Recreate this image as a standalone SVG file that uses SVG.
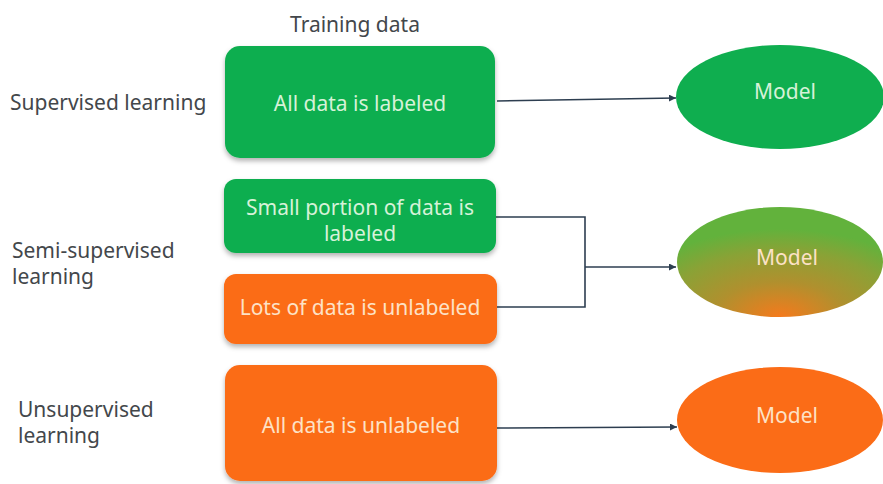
<svg xmlns="http://www.w3.org/2000/svg" width="883" height="484" viewBox="0 0 883 484">
<style>
.lbl{font-family:"Noto Sans","Liberation Sans",sans-serif;font-size:21px;fill:#43474b}
.btxt{font-family:"Noto Sans","Liberation Sans",sans-serif;font-size:21px;text-anchor:middle}
.g{fill:#0fae4f}
.o{fill:#fb6c17}
.gt{fill:#d6f2d8}
.ot{fill:#fde2c6}
.con{fill:none;stroke:#2d3e50;stroke-width:1.6}
</style>
<defs>
<filter id="sh" x="-10%" y="-10%" width="120%" height="130%">
<feDropShadow dx="0" dy="3" stdDeviation="2.5" flood-color="#000" flood-opacity="0.3"/>
</filter>
<marker id="ar" viewBox="0 0 10 10" refX="10" refY="5" markerWidth="7" markerHeight="7" markerUnits="userSpaceOnUse" orient="auto">
<path d="M0,0 L10,5 L0,10 z" fill="#2d3e50"/>
</marker>
<radialGradient id="mix" cx="0.5" cy="1" r="0.8" gradientUnits="objectBoundingBox">
<stop offset="0" stop-color="#f57a1c"/>
<stop offset="0.4" stop-color="#b0902e"/>
<stop offset="0.75" stop-color="#8aa236"/>
<stop offset="1" stop-color="#62b23c"/>
</radialGradient>
</defs>
<g id="labels">
<text class="lbl" x="355" y="32" text-anchor="middle">Training data</text>
<text class="lbl" x="10" y="110">Supervised learning</text>
<text class="lbl" x="12" y="258">Semi-supervised</text>
<text class="lbl" x="12" y="284">learning</text>
<text class="lbl" x="18" y="417">Unsupervised</text>
<text class="lbl" x="18" y="443">learning</text>
</g>
<g id="connectors">
<path class="con" d="M497,101 L676,98" marker-end="url(#ar)"/>
<path class="con" d="M496,217 L585,217 L585,307 L497,307"/>
<path class="con" d="M585,267 L676,267" marker-end="url(#ar)"/>
<path class="con" d="M497,428 L677,427" marker-end="url(#ar)"/>
</g>
<g id="box-sup">
<rect class="g" x="225" y="46" width="270" height="112" rx="15" filter="url(#sh)"/>
<text class="btxt gt" x="360" y="111">All data is labeled</text>
</g>
<g id="box-semi-labeled">
<rect class="g" x="224" y="179" width="272" height="74" rx="12" filter="url(#sh)"/>
<text class="btxt gt" x="360" y="215">Small portion of data is</text>
<text class="btxt gt" x="360" y="241">labeled</text>
</g>
<g id="box-semi-unlabeled">
<rect class="o" x="224" y="274" width="273" height="70" rx="12" filter="url(#sh)"/>
<text class="btxt ot" x="360" y="315">Lots of data is unlabeled</text>
</g>
<g id="box-unsup">
<rect class="o" x="225" y="365" width="272" height="116" rx="15" filter="url(#sh)"/>
<text class="btxt ot" x="361" y="433">All data is unlabeled</text>
</g>
<g id="model-sup">
<ellipse class="g" cx="780" cy="97" rx="104" ry="52"/>
<text class="btxt gt" x="785" y="99">Model</text>
</g>
<g id="model-semi">
<ellipse fill="url(#mix)" cx="780" cy="262" rx="103" ry="55"/>
<text class="btxt ot" x="787" y="265">Model</text>
</g>
<g id="model-unsup">
<ellipse class="o" cx="780" cy="420" rx="103" ry="53"/>
<text class="btxt ot" x="787" y="423">Model</text>
</g>
</svg>
